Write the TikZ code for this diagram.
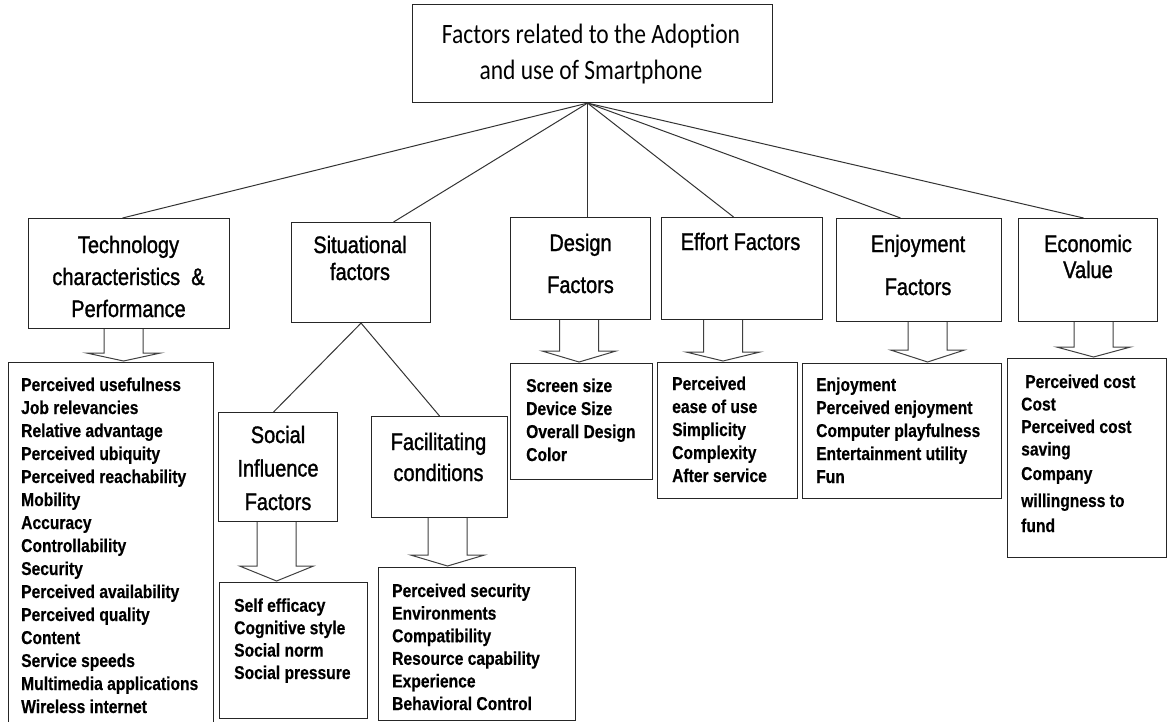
\documentclass[tikz,border=0pt]{standalone}
\usepackage{fontspec}
\usetikzlibrary{calc}
\newfontfamily\topfont[FakeStretch=0.84, Ligatures=NoCommon]{Carlito}
\newfontfamily\headfont[FakeStretch=0.84, FakeBold=1.3]{Liberation Sans}
\newfontfamily\itemfont[FakeStretch=0.84, FakeBold=0.4]{Liberation Sans Bold}

\tikzset{
  box/.style={draw=black!85, line width=1.1pt, rectangle, inner sep=0pt, anchor=north west},
  conn/.style={draw=black!80, line width=1pt},
  blockarrow/.style={draw=black!75, line width=1pt, fill=white, line join=miter},
  % the base anchor of a multi-line text is the baseline of its last line
  toptext/.style={align=center, inner sep=0pt, anchor=base, font=\topfont\fontsize{28}{36}\selectfont},
  headtext/.style={align=center, inner sep=0pt, anchor=base, font=\headfont\fontsize{23.8}{#1}\selectfont},
  listtext/.style={align=left, inner sep=0pt, anchor=base west, font=\itemfont\fontsize{18.6}{#1}\selectfont},
}

% hollow block arrow from the bottom of #1 to the top of #2;
% #3 shifts the shaft from the centre of #1, #4 is the depth of the head
\newcommand\blockarrow[4]{%
  \draw[blockarrow] let \p1=(#1.south), \p2=(#2.north) in
    ({\x1+(#3)-19.5pt},\y1) -- ({\x1+(#3)-19.5pt},{\y2+1pt+#4}) --
    ({\x1+(#3)-37pt},{\y2+1pt+#4}) -- ({\x1+(#3)},{\y2+1pt}) --
    ({\x1+(#3)+37pt},{\y2+1pt+#4}) -- ({\x1+(#3)+19.5pt},{\y2+1pt+#4}) --
    ({\x1+(#3)+19.5pt},\y1);
}

\begin{document}
\begin{tikzpicture}[x=1pt, y=-1pt]
\useasboundingbox (0,0) rectangle (1167,721);

% boxes
\node[box, minimum width=360pt, minimum height=98pt]  (top)    at (412,4)   {};
\node[box, minimum width=201pt, minimum height=110pt] (tech)   at (28,218)  {};
\node[box, minimum width=139pt, minimum height=100pt] (sit)    at (291,222) {};
\node[box, minimum width=140pt, minimum height=102pt] (design) at (510,217) {};
\node[box, minimum width=161pt, minimum height=102pt] (effort) at (661,217) {};
\node[box, minimum width=165pt, minimum height=103pt] (enjoy)  at (836,218) {};
\node[box, minimum width=139pt, minimum height=103pt] (econ)   at (1018,218) {};
\node[box, minimum width=119pt, minimum height=109pt] (social) at (218,412) {};
\node[box, minimum width=136pt, minimum height=101pt] (facil)  at (371,416) {};

\node[box, minimum width=205pt, minimum height=380pt] (techlist)   at (8,362)   {};
\node[box, minimum width=148pt, minimum height=136pt] (sociallist) at (219,582) {};
\node[box, minimum width=197pt, minimum height=153pt] (facillist)  at (378,567) {};
\node[box, minimum width=142pt, minimum height=116pt] (designlist) at (510,363) {};
\node[box, minimum width=140pt, minimum height=136pt] (effortlist) at (657,362) {};
\node[box, minimum width=199pt, minimum height=135pt] (enjoylist)  at (802,363) {};
\node[box, minimum width=159pt, minimum height=199pt] (econlist)   at (1007,358) {};

% titles
\node[toptext] (toptitle) at (591,79) {Factors related to the Adoption\\and use of Smartphone};
\node[headtext=32]   (techtitle)   at (128.5,317) {Technology\\characteristics\ \ \&\\Performance};
\node[headtext=27]   (sittitle)    at (360,280)   {Situational\\factors};
\node[headtext=42]   (designtitle) at (580.5,293) {Design\\Factors};
\node[headtext=27]   (efforttitle) at (740.5,250) {Effort Factors};
\node[headtext=43]   (enjoytitle)  at (918,295)   {Enjoyment\\Factors};
\node[headtext=26]   (econtitle)   at (1088,278)  {Economic\\Value};
\node[headtext=33.5] (socialtitle) at (278,510)   {Social\\Influence\\Factors};
\node[headtext=31]   (faciltitle)  at (438.5,481) {Facilitating\\conditions};

% item lists
\node[listtext=23] (techitems) at (21,713) {Perceived usefulness\\Job relevancies\\Relative advantage\\Perceived ubiquity\\Perceived reachability\\Mobility\\Accuracy\\Controllability\\Security\\Perceived availability\\Perceived quality\\Content\\Service speeds\\Multimedia applications\\Wireless internet};
\node[listtext=22.4] (socialitems) at (234,679) {Self efficacy\\Cognitive style\\Social norm\\Social pressure};
\node[listtext=22.6] (facilitems) at (392,710) {Perceived security\\Environments\\Compatibility\\Resource capability\\Experience\\Behavioral Control};
\node[listtext=23] (designitems) at (526,461) {Screen size\\Device Size\\Overall Design\\Color};
\node[listtext=23] (effortitems) at (672,482) {Perceived\\ease of use\\Simplicity\\Complexity\\After service};
\node[listtext=23] (enjoyitems) at (816,483) {Enjoyment\\Perceived enjoyment\\Computer playfulness\\Entertainment utility\\Fun};
\node[listtext=22.5] (econitems) at (1021,532) {\hspace*{4pt}Perceived cost\\Cost\\Perceived cost\\saving\\[2pt]Company\\[4.5pt]willingness to\\[2.5pt]fund};

% connectors from the main box
\draw[conn] ([xshift=-5pt]top.south) -- ([xshift=-6.5pt]tech.north);
\draw[conn] ([xshift=-5pt]top.south) -- ([xshift=32.5pt]sit.north);
\draw[conn] ([xshift=-5pt]top.south) -- ([xshift=7pt]design.north);
\draw[conn] ([xshift=-5pt]top.south) -- ([xshift=-8.5pt]effort.north);
\draw[conn] ([xshift=-5pt]top.south) -- ([xshift=-18.5pt]enjoy.north);
\draw[conn] ([xshift=-5pt]top.south) -- ([xshift=-4.5pt]econ.north);

% situational branches
\draw[conn] (sit.south) -- ([xshift=-4.5pt]social.north);
\draw[conn] (sit.south) -- (facil.north);

% block arrows to the item lists
\blockarrow{tech}{techlist}{-5.5pt}{8pt}
\blockarrow{social}{sociallist}{-1.5pt}{15pt}
\blockarrow{facil}{facillist}{8pt}{11pt}
\blockarrow{design}{designlist}{-1.5pt}{11pt}
\blockarrow{effort}{effortlist}{-19pt}{9pt}
\blockarrow{enjoy}{enjoylist}{8.5pt}{12pt}
\blockarrow{econ}{econlist}{5.5pt}{10pt}
\end{tikzpicture}
\end{document}
